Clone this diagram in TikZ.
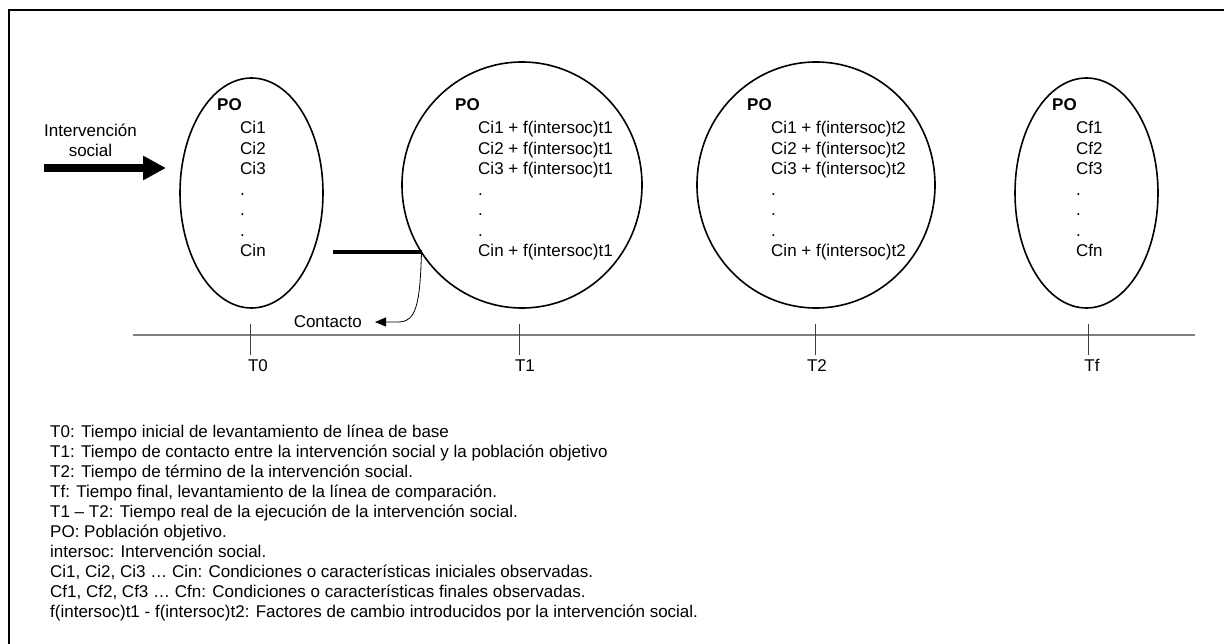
\documentclass[tikz,border=0pt]{standalone}
\usepackage{fontspec}
\setmainfont{Liberation Sans}
\usetikzlibrary{shapes.geometric, arrows.meta}
\begin{document}
\begin{tikzpicture}[x=1pt,y=-1pt,
  dtxt/.style={font=\fontsize{17}{20}\selectfont, inner sep=0, anchor=base west},
  potxt/.style={font=\fontsize{17}{20}\selectfont\bfseries, inner sep=0, anchor=base west},
  ltxt/.style={font=\fontsize{17}{19}\selectfont, inner sep=0, anchor=base west},
  ttxt/.style={font=\fontsize{17}{19}\selectfont, inner sep=0, anchor=base},
  oval/.style={draw, ellipse, line width=1.6, inner sep=0},
  frameline/.style={line width=2.4},
  axis/.style={draw=black!50, line width=2},
  tick/.style={draw=black!75, line width=0.8},
]
\useasboundingbox (0,0) rectangle (1224,644);
% frame (top and left)
\coordinate (fa) at (9,644);
\coordinate (fb) at (9,10);
\coordinate (fc) at (1224,10);
\draw[frameline] (fa) -- (fb) -- (fc);

% ovals
\node[oval, minimum width=143, minimum height=230] (E0) at (251.5,193) {};
\node[oval, minimum width=240, minimum height=246] (E1) at (522,185) {};
\node[oval, minimum width=238, minimum height=246] (E2) at (816,185) {};
\node[oval, minimum width=143, minimum height=230] (E3) at (1086.5,193) {};

% PO labels
\node[potxt] (p0) at (217,111) {PO};
\node[potxt] (p1) at (455,111) {PO};
\node[potxt] (p2) at (747,111) {PO};
\node[potxt] (p3) at (1052,111) {PO};

\foreach \t [count=\i from 0] in {Ci1,Ci2,Ci3,.,.,.,Cin}
  \node[dtxt] (a\i) at (240,134+20.5*\i) {\t};
\foreach \t [count=\i from 0] in {Ci1 + f(intersoc)t1,Ci2 + f(intersoc)t1,Ci3 + f(intersoc)t1,.,.,.,Cin + f(intersoc)t1}
  \node[dtxt] (b\i) at (478,134+20.5*\i) {\t};
\foreach \t [count=\i from 0] in {Ci1 + f(intersoc)t2,Ci2 + f(intersoc)t2,Ci3 + f(intersoc)t2,.,.,.,Cin + f(intersoc)t2}
  \node[dtxt] (c\i) at (771,134+20.5*\i) {\t};
\foreach \t [count=\i from 0] in {Cf1,Cf2,Cf3,.,.,.,Cfn}
  \node[dtxt] (d\i) at (1076,134+20.5*\i) {\t};

% intervention arrow
\node[font=\fontsize{17}{20}\selectfont, align=center, inner sep=0] (iv) at (90.5,140) {Intervención\\social};
\coordinate (ia) at (44,168);
\coordinate (ib) at (166,168);
\draw[line width=8, -{Triangle[length=23pt, width=23pt]}] (ia) -- (ib);

% contact
\coordinate (c0) at (333,252);
\coordinate (c1) at (421.5,252);
\coordinate (ct) at (375,322);
\draw[line width=4] (c0) -- (c1);
\node[font=\fontsize{17}{20}\selectfont, inner sep=0, anchor=east] (contacto) at (362,322) {Contacto};
\draw[line width=0.8, -{Triangle[length=11pt, width=9pt]}] (c1) .. controls (420,305) and (416,322) .. (398,322) -- (ct);

% timeline
\coordinate (ta) at (133,335);
\coordinate (tb) at (1195,335);
\draw[axis] (ta) -- (tb);
\foreach \x/\lx/\n/\l in {250.5/258/0/T0, 519.5/525/1/T1, 815/817/2/T2, 1088/1092/3/Tf} {
  \coordinate (tu\n) at (\x,324);
  \coordinate (td\n) at (\x,355);
  \draw[tick] (tu\n) -- (td\n);
  \node[ttxt] (tl\n) at (\lx,372) {\l};
}

% legend
\foreach \t [count=\i from 0] in {
  {T0: Tiempo inicial de levantamiento de línea de base},
  {T1: Tiempo de contacto entre la intervención social y la población objetivo},
  {T2: Tiempo de término de la intervención social.},
  {Tf: Tiempo final, levantamiento de la línea de comparación.},
  {T1 – T2: Tiempo real de la ejecución de la intervención social.},
  {PO: Población objetivo.},
  {intersoc: Intervención social.},
  {Ci1, Ci2, Ci3 … Cin: Condiciones o características iniciales observadas.},
  {Cf1, Cf2, Cf3 … Cfn: Condiciones o características finales observadas.},
  {f(intersoc)t1 - f(intersoc)t2: Factores de cambio introducidos por la intervención social.}}
  \node[ltxt] (l\i) at (50,437+20*\i) {\t};
\end{tikzpicture}
\end{document}
